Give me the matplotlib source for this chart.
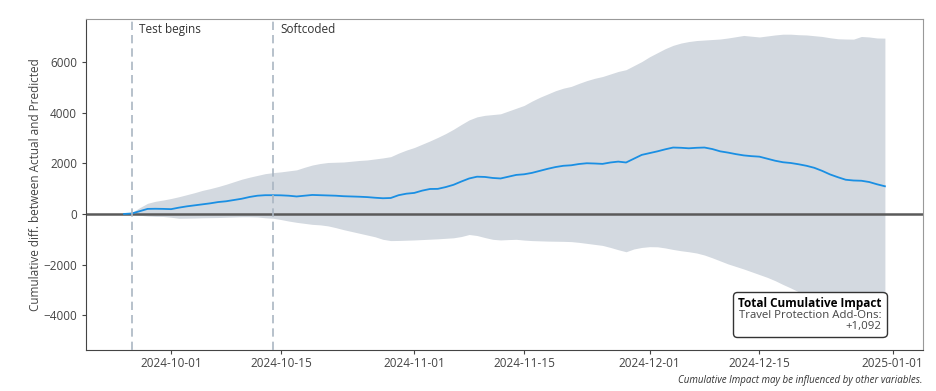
import numpy as np
import pandas as pd
import matplotlib
matplotlib.use("Agg")
import matplotlib.pyplot as plt
import matplotlib.dates as mdates
from matplotlib.offsetbox import TextArea, VPacker, AnchoredOffsetbox

plt.rcParams['font.family'] = ['Open Sans', 'DejaVu Sans']

dates = pd.date_range('2024-09-25', '2024-12-31', freq='D')

# cumulative difference (actual - predicted)
mean = [0, 20, 110, 200, 205, 200, 190, 250, 300, 340,
        380, 420, 470, 500, 550, 600, 670, 720, 740, 740,
        735, 720, 690, 720, 750, 740, 730, 720, 700, 690,
        680, 665, 640, 620, 630, 740, 800, 830, 920, 985,
        990, 1060, 1150, 1280, 1400, 1470, 1460, 1420, 1400, 1470,
        1540, 1565, 1620, 1700, 1780, 1850, 1900, 1920, 1970, 2000,
        1990, 1975, 2030, 2065, 2030, 2180, 2330, 2400, 2470, 2550,
        2620, 2610, 2590, 2610, 2620, 2560, 2470, 2420, 2360, 2310,
        2280, 2260, 2180, 2100, 2040, 2010, 1960, 1900, 1820, 1700,
        1560, 1450, 1350, 1320, 1310, 1260, 1170, 1092]

upper = [0, 60, 250, 420, 500, 550, 610, 680, 760, 840,
         930, 1000, 1080, 1170, 1270, 1370, 1450, 1520, 1590, 1630,
         1660, 1700, 1740, 1840, 1930, 1990, 2030, 2040, 2050, 2080,
         2110, 2130, 2170, 2210, 2260, 2400, 2520, 2620, 2750, 2880,
         3020, 3170, 3340, 3530, 3710, 3830, 3890, 3920, 3950, 4060,
         4170, 4280, 4450, 4600, 4730, 4860, 4960, 5030, 5150, 5260,
         5350, 5420, 5520, 5620, 5690, 5850, 6010, 6200, 6360, 6520,
         6650, 6740, 6800, 6840, 6860, 6880, 6900, 6940, 6990, 7040,
         7010, 6980, 7020, 7060, 7090, 7090, 7070, 7060, 7030, 7000,
         6950, 6910, 6900, 6895, 7000, 6980, 6940, 6935]

lower = [0, -15, -50, -80, -95, -100, -130, -170, -165, -160,
         -150, -145, -140, -130, -120, -110, -110, -120, -150, -170,
         -220, -280, -330, -370, -410, -430, -470, -540, -620, -690,
         -760, -830, -900, -1000, -1050, -1045, -1035, -1025, -1010, -995,
         -980, -960, -940, -890, -810, -850, -930, -1000, -1025, -1010,
         -1000, -1030, -1050, -1060, -1070, -1075, -1080, -1090, -1120, -1160,
         -1200, -1240, -1320, -1410, -1490, -1380, -1320, -1290, -1295, -1340,
         -1400, -1450, -1490, -1540, -1620, -1730, -1850, -1970, -2070, -2170,
         -2280, -2390, -2500, -2630, -2780, -2920, -3070, -3200, -3340, -3480,
         -3620, -3770, -3920, -4090, -4250, -4430, -4600, -4770]

events = [('2024-09-26', 'Test begins'), ('2024-10-14', 'Softcoded')]
total_label = 'Travel Protection Add-Ons:\n+1,092'

fig = plt.figure(figsize=(9.37, 3.91), dpi=100)
ax = fig.add_axes([0.0918, 0.105, 0.8932, 0.846])

ax.fill_between(dates, lower, upper, color='#d3d9e0', lw=0, zorder=1)
ax.plot(dates, mean, color='#1a8fe3', lw=1.3, zorder=3)
ax.axhline(0, color='#5a5a5a', lw=1.8, zorder=2)

for d, lab in events:
    dt = pd.Timestamp(d)
    ax.axvline(dt, color='#aab6c2', ls=(0, (5, 3)), lw=1.2, zorder=4)
    ax.annotate(lab, xy=(dt, 1), xycoords=('data', 'axes fraction'),
                xytext=(5, -3), textcoords='offset points',
                ha='left', va='top', fontsize=8.5, color='#333333')

ax.set_ylabel('Cumulative diff. between Actual and Predicted', fontsize=8.5,
              color='#444444', labelpad=1)
ax.set_yticks([-4000, -2000, 0, 2000, 4000, 6000])
ax.xaxis.set_major_locator(mdates.DayLocator(bymonthday=[1, 15]))
ax.xaxis.set_major_formatter(mdates.DateFormatter('%Y-%m-%d'))
ax.tick_params(labelsize=8.5, labelcolor='#444444', color='#444444', length=3)
ax.tick_params(axis='x', pad=2)

for s in ['top', 'right']:
    ax.spines[s].set_color('#999999')
for s in ['left', 'bottom']:
    ax.spines[s].set_color('#444444')

title = TextArea('Total Cumulative Impact',
                 textprops=dict(fontsize=8.5, fontweight='bold', color='black', ha='right'))
body = TextArea(total_label,
                textprops=dict(fontsize=8.2, color='#444444', ha='right',
                               multialignment='right', linespacing=1.05))
pack = VPacker(children=[title, body], align='right', pad=0, sep=0)
box = AnchoredOffsetbox(loc='lower right', child=pack, pad=0.2, borderpad=0,
                        frameon=True, bbox_to_anchor=(0.954, 0.045),
                        bbox_transform=ax.transAxes)
box.patch.set_boxstyle('round,pad=0.15,rounding_size=0.3')
box.patch.set_edgecolor('#333333')
box.patch.set_linewidth(1.0)
box.zorder = 5
ax.add_artist(box)

fig.text(0.985, 0.012, 'Cumulative Impact may be influenced by other variables.',
         ha='right', va='bottom', fontsize=7, style='italic', color='#333333')

fig.savefig('out.png', dpi=100)
